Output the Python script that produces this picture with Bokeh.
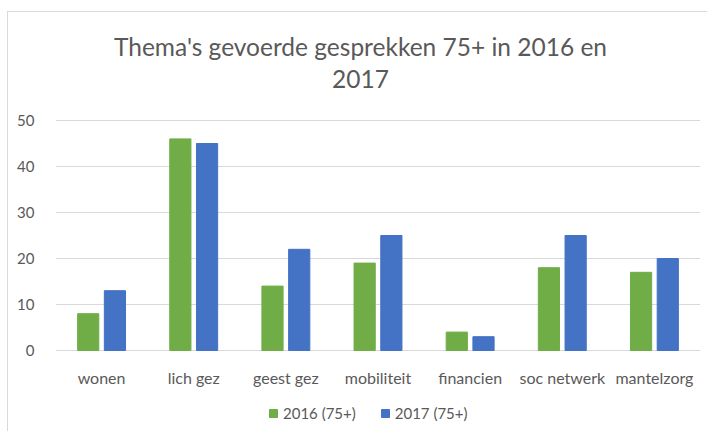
from bokeh.plotting import figure
from bokeh.models import (ColumnDataSource, FactorRange, Range1d, Legend, LegendItem,
                          Label, FixedTicker)
from bokeh.transform import dodge
from bokeh.embed import file_html
from bokeh.resources import INLINE

categories = ["wonen", "lich gez", "geest gez", "mobiliteit", "financien", "soc netwerk", "mantelzorg"]
series_2016 = [8, 46, 14, 19, 4, 18, 17]
series_2017 = [13, 45, 22, 25, 3, 25, 20]
y_ticks = [0, 10, 20, 30, 40, 50]
title_line1 = "Thema's gevoerde gesprekken 75+ in 2016 en"
title_line2 = "2017"
label_2016 = "2016 (75+)"
label_2017 = "2017 (75+)"

GREEN = "#70AD47"
BLUE = "#4472C4"
TEXT = "#595959"
GRID = "#D9D9D9"
FONT = "Lato"

source = ColumnDataSource(dict(cats=categories, v2016=series_2016, v2017=series_2017))

# frame covers the whole canvas right of the y labels; value 50 sits 108px below
# the top and value 0 sits 82px above the bottom (4.6 px per unit)
p = figure(x_range=FactorRange(*categories, range_padding=0),
           y_range=Range1d(-82 / 4.6, 50 + 108 / 4.6),
           width=700, height=420, output_backend="svg", toolbar_location=None,
           x_axis_location=None,
           min_border_left=47, min_border_right=8, min_border_top=0, min_border_bottom=0)
p.title = None
p.styles = {"border-left": "1px solid #d9d9d9", "border-top": "1px solid #d9d9d9",
            "margin-left": "7px", "margin-top": "11px"}

r1 = p.vbar(x=dodge("cats", -0.145, range=p.x_range), top="v2016", width=0.23,
            source=source, fill_color=GREEN, line_color=GREEN)
r2 = p.vbar(x=dodge("cats", 0.145, range=p.x_range), top="v2017", width=0.23,
            source=source, fill_color=BLUE, line_color=BLUE)

# category labels under the baseline
p.text(x="cats", y=0, text="cats", source=source, y_offset=27,
       text_align="center", text_baseline="middle", text_font={"value": FONT},
       text_font_size="16px", text_color=TEXT)

# two-line title
p.add_layout(Label(x=3.31, y=50 + 74 / 4.6, text=title_line1, text_align="center",
                   text_baseline="middle", text_font=FONT, text_font_size="24.5px",
                   text_color=TEXT))
p.add_layout(Label(x=3.31, y=50 + 42 / 4.6, text=title_line2, text_align="center",
                   text_baseline="middle", text_font=FONT, text_font_size="24.5px",
                   text_color=TEXT))

p.outline_line_color = None
p.xgrid.grid_line_color = None
p.ygrid.grid_line_color = GRID
p.ygrid.ticker = FixedTicker(ticks=y_ticks)

p.yaxis.ticker = FixedTicker(ticks=y_ticks)
p.yaxis.axis_line_color = None
p.yaxis.major_tick_line_color = None
p.yaxis.minor_tick_line_color = None
p.yaxis.major_label_standoff = 15
p.yaxis.major_label_text_font = FONT
p.yaxis.major_label_text_font_size = "15px"
p.yaxis.major_label_text_color = TEXT

legend = Legend(items=[LegendItem(label=label_2016, renderers=[r1]),
                       LegendItem(label=label_2017, renderers=[r2])],
                orientation="horizontal", location=(213, 10),
                border_line_color=None, background_fill_alpha=0,
                label_text_font=FONT, label_text_font_size="15px", label_text_color=TEXT,
                glyph_width=10, glyph_height=10, label_standoff=5, spacing=24,
                label_height=10, padding=0, margin=0)
p.add_layout(legend, "center")

open("out.html", "w").write(file_html(p, INLINE))
